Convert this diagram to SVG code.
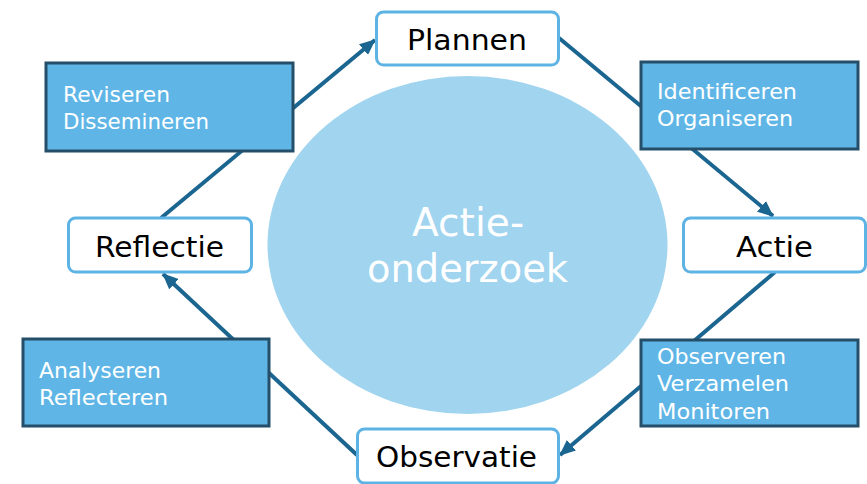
<svg xmlns="http://www.w3.org/2000/svg" width="867" height="484" viewBox="0 0 867 484">
<style>
.conn{stroke:#1B6591;stroke-width:4;fill:none}
.node rect{fill:#fff;stroke:#5DB3E4;stroke-width:3}
.node text{font-family:"DejaVu Sans","Open Sans",sans-serif;font-size:29px;fill:#000;text-anchor:middle}
.act rect{fill:#5FB6E6;stroke:#244E69;stroke-width:3}
.act text{font-family:"DejaVu Sans","Open Sans",sans-serif;font-size:22px;fill:#fff}
.center text{font-family:"DejaVu Sans","Open Sans",sans-serif;font-size:38.5px;fill:#fff;text-anchor:middle}
</style>
<defs>
<marker id="ah" markerUnits="userSpaceOnUse" markerWidth="16" markerHeight="14" refX="15" refY="7" orient="auto">
<path d="M0,0 L16,7 L0,14 Z" fill="#1B6591"/>
</marker>
</defs>
<rect width="867" height="484" fill="#fff"/>
<g id="center" class="center">
<ellipse cx="467.5" cy="245" rx="200" ry="169" fill="#A0D4EF"/>
<text x="468" y="236" textLength="112" lengthAdjust="spacingAndGlyphs">Actie-</text>
<text x="467.5" y="282" textLength="201" lengthAdjust="spacingAndGlyphs">onderzoek</text>
</g>
<g id="connectors">
<line class="conn" x1="161" y1="218" x2="375" y2="40" marker-end="url(#ah)"/>
<line class="conn" x1="559" y1="38" x2="773" y2="216" marker-end="url(#ah)"/>
<line class="conn" x1="775" y1="272" x2="560" y2="455" marker-end="url(#ah)"/>
<line class="conn" x1="357" y1="455" x2="163" y2="274" marker-end="url(#ah)"/>
</g>
<g id="plannen" class="node">
<rect x="376.5" y="12" width="182" height="53" rx="7"/>
<text x="467" y="50" textLength="120" lengthAdjust="spacingAndGlyphs">Plannen</text>
</g>
<g id="actie" class="node">
<rect x="683.5" y="218" width="182" height="54" rx="7"/>
<text x="774.5" y="257" textLength="77" lengthAdjust="spacingAndGlyphs">Actie</text>
</g>
<g id="observatie" class="node">
<rect x="357.5" y="429" width="201" height="54" rx="7"/>
<text x="456.5" y="467" textLength="161" lengthAdjust="spacingAndGlyphs">Observatie</text>
</g>
<g id="reflectie" class="node">
<rect x="68.5" y="218" width="183" height="54" rx="7"/>
<text x="159.5" y="257" textLength="129" lengthAdjust="spacingAndGlyphs">Reflectie</text>
</g>
<g id="reviseren" class="act">
<rect x="46" y="63" width="247" height="88"/>
<text x="63" y="102" textLength="107" lengthAdjust="spacingAndGlyphs">Reviseren</text>
<text x="63" y="129" textLength="146" lengthAdjust="spacingAndGlyphs">Dissemineren</text>
</g>
<g id="identificeren" class="act">
<rect x="641" y="62" width="217" height="87"/>
<text x="657" y="99" textLength="140" lengthAdjust="spacingAndGlyphs">Identificeren</text>
<text x="657" y="126" textLength="136" lengthAdjust="spacingAndGlyphs">Organiseren</text>
</g>
<g id="observeren" class="act">
<rect x="641" y="340" width="217" height="86"/>
<text x="657" y="364" textLength="129" lengthAdjust="spacingAndGlyphs">Observeren</text>
<text x="657" y="391" textLength="132" lengthAdjust="spacingAndGlyphs">Verzamelen</text>
<text x="657" y="419" textLength="113" lengthAdjust="spacingAndGlyphs">Monitoren</text>
</g>
<g id="analyseren" class="act">
<rect x="23" y="339" width="246" height="87"/>
<text x="39" y="378" textLength="122" lengthAdjust="spacingAndGlyphs">Analyseren</text>
<text x="39" y="405" textLength="129" lengthAdjust="spacingAndGlyphs">Reflecteren</text>
</g>
</svg>
